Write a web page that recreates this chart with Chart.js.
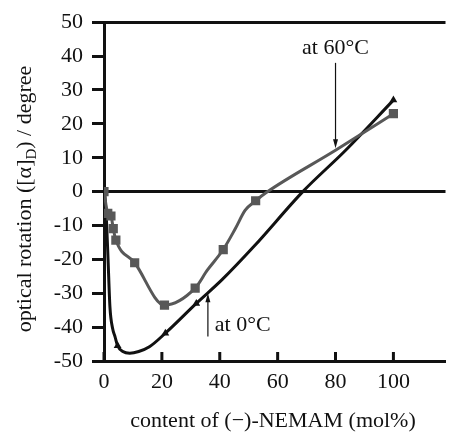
<!DOCTYPE html>
<html>
<head>
<meta charset="utf-8">
<script src="https://cdn.jsdelivr.net/npm/chart.js@4/dist/chart.umd.min.js"></script>
<style>
  html, body { margin: 0; padding: 0; background: #fff; }
</style>
</head>
<body>
<canvas id="nemamChart" width="452" height="437"></canvas>
<script>
// 60 C series (squares)
var x60 = [0, 1.3, 2.4, 3.2, 4.1, 10.6, 20.9, 31.5, 41.2, 52.4, 100];
var y60 = [0, -6.4, -7.2, -10.9, -14.3, -21, -33.5, -28.5, -17.1, -2.7, 23];
// 60 C smoothed curve
var curve60x = [0, 1.3, 2.4, 3.2, 4.1, 10.6, 20.9, 31.5, 35.7, 41.2, 45.4, 48.8, 52.4, 56.2, 80, 100];
var curve60y = [0, -6.4, -7.2, -10.9, -14.3, -21, -33.5, -28.5, -23.2, -17.1, -10.9, -5.5, -2.7, -0.2, 12.2, 23];

// 0 C series (triangles)
var x0 = [4.7, 21.2, 31.9, 100];
var y0 = [-45.5, -41.8, -33, 27];
// 0 C smoothed curve
var curve0x = [0.3, 0.9, 1.4, 2.05, 3, 3.8, 4.7, 6.5, 8.9, 12, 15.7, 21.2, 31.9, 40.8, 52, 68.7, 83.5, 100];
var curve0y = [-1, -9.4, -20, -34, -40.5, -42.8, -45.5, -47.2, -47.7, -47.2, -45.8, -41.8, -33, -26, -16, 0, 12.2, 27];

var xTicks = [0, 20, 40, 60, 80, 100];
var yTicks = [-50, -40, -30, -20, -10, 0, 10, 20, 30, 40, 50];

var yTitleParts = ['optical rotation ([\u03b1]', 'D', ') / degree'];
var xTitle = 'content of (\u2212)-NEMAM (mol%)';

var notes = [
  { text: 'at 60\u00b0C', tx: 80, ty: 42.3, align: 'center', ax: 80, from: 38, to: 12.8 },
  { text: 'at 0\u00b0C', tx: 38.3, ty: -39.5, align: 'left', ax: 35.9, from: -42.8, to: -30 }
];

function pts(xs, ys) {
  var out = [];
  for (var i = 0; i < xs.length; i++) out.push({ x: xs[i], y: ys[i] });
  return out;
}

var FONT = 'Liberation Serif';
var INK = '#111';
var GRAY = '#585858';
var FS = 22;

Chart.defaults.font.family = FONT;
Chart.defaults.font.size = FS;
Chart.defaults.color = INK;

var extrasPlugin = {
  id: 'extras',
  afterDraw: function (chart) {
    var ctx = chart.ctx;
    var xs = chart.scales.x, ys = chart.scales.y;
    var area = chart.chartArea;
    ctx.save();

    // x ticks point inward
    ctx.strokeStyle = INK;
    ctx.lineWidth = 3;
    xTicks.forEach(function (v) {
      var px = xs.getPixelForValue(v);
      ctx.beginPath();
      ctx.moveTo(px, area.bottom);
      ctx.lineTo(px, area.bottom - 9);
      ctx.stroke();
    });

    // axis titles
    var big = FS + 'px "' + FONT + '"', small = '15px "' + FONT + '"';
    ctx.fillStyle = INK;
    ctx.font = big;
    ctx.textAlign = 'center';
    ctx.textBaseline = 'middle';
    ctx.fillText(xTitle, 273, 421);

    ctx.save();
    ctx.translate(25, 199);
    ctx.rotate(-Math.PI / 2);
    ctx.textAlign = 'left';
    ctx.textBaseline = 'middle';
    ctx.font = big;
    var w1 = ctx.measureText(yTitleParts[0]).width;
    var w3 = ctx.measureText(yTitleParts[2]).width;
    ctx.font = small;
    var w2 = ctx.measureText(yTitleParts[1]).width;
    var sx = -(w1 + w2 + w3) / 2;
    ctx.font = big;
    ctx.fillText(yTitleParts[0], sx, 0);
    ctx.font = small;
    ctx.fillText(yTitleParts[1], sx + w1, 7);
    ctx.font = big;
    ctx.fillText(yTitleParts[2], sx + w1 + w2, 0);
    ctx.restore();

    // annotations with arrows
    notes.forEach(function (n) {
      ctx.font = big;
      ctx.textAlign = n.align;
      ctx.textBaseline = 'middle';
      ctx.fillText(n.text, xs.getPixelForValue(n.tx), ys.getPixelForValue(n.ty));
      var ax = xs.getPixelForValue(n.ax);
      var a = ys.getPixelForValue(n.from), b = ys.getPixelForValue(n.to);
      var dir = b > a ? 1 : -1;
      ctx.lineWidth = 1.2;
      ctx.beginPath();
      ctx.moveTo(ax, a);
      ctx.lineTo(ax, b - dir * 6);
      ctx.stroke();
      ctx.beginPath();
      ctx.moveTo(ax, b);
      ctx.lineTo(ax - 2.5, b - dir * 9);
      ctx.lineTo(ax + 2.5, b - dir * 9);
      ctx.closePath();
      ctx.fill();
    });
    ctx.restore();
  }
};

new Chart(document.getElementById('nemamChart'), {
  type: 'scatter',
  data: {
    datasets: [
      {
        data: pts(x60, y60),
        showLine: false,
        pointStyle: 'rect',
        pointRadius: 6.5,
        pointBackgroundColor: GRAY,
        pointBorderWidth: 0
      },
      {
        data: pts(curve60x, curve60y),
        showLine: true,
        borderColor: GRAY,
        borderWidth: 3,
        pointRadius: 0,
        cubicInterpolationMode: 'monotone'
      },
      {
        data: pts(x0, y0),
        showLine: false,
        pointStyle: 'triangle',
        pointRadius: 4.5,
        pointBackgroundColor: INK,
        pointBorderWidth: 0
      },
      {
        data: pts(curve0x, curve0y),
        showLine: true,
        borderColor: INK,
        borderWidth: 3,
        pointRadius: 0,
        cubicInterpolationMode: 'monotone'
      }
    ]
  },
  options: {
    responsive: false,
    animation: false,
    layout: { padding: { left: 0, top: 22, right: 3, bottom: 0 } },
    plugins: {
      legend: { display: false },
      tooltip: { enabled: false }
    },
    scales: {
      x: {
        type: 'linear',
        min: 0,
        max: 118,
        afterFit: function (s) { s.height = 76; },
        afterBuildTicks: function (s) { s.ticks = xTicks.map(function (v) { return { value: v }; }); },
        grid: { display: true, drawOnChartArea: false, drawTicks: false },
        border: { color: INK, width: 3 },
        ticks: { padding: 8, color: INK, font: { size: FS } }
      },
      y: {
        type: 'linear',
        min: -50,
        max: 50,
        afterFit: function (s) { s.width = 104; },
        afterBuildTicks: function (s) { s.ticks = yTicks.map(function (v) { return { value: v }; }); },
        grid: {
          drawOnChartArea: true,
          color: function (c) {
            return (c.tick && (c.tick.value === 0 || c.tick.value === 50)) ? INK : 'rgba(0,0,0,0)';
          },
          lineWidth: 3,
          tickLength: 12,
          tickWidth: 3,
          tickColor: INK
        },
        border: { color: INK, width: 3 },
        ticks: { padding: 9, color: INK, font: { size: FS } }
      }
    }
  },
  plugins: [extrasPlugin]
});
</script>
</body>
</html>
